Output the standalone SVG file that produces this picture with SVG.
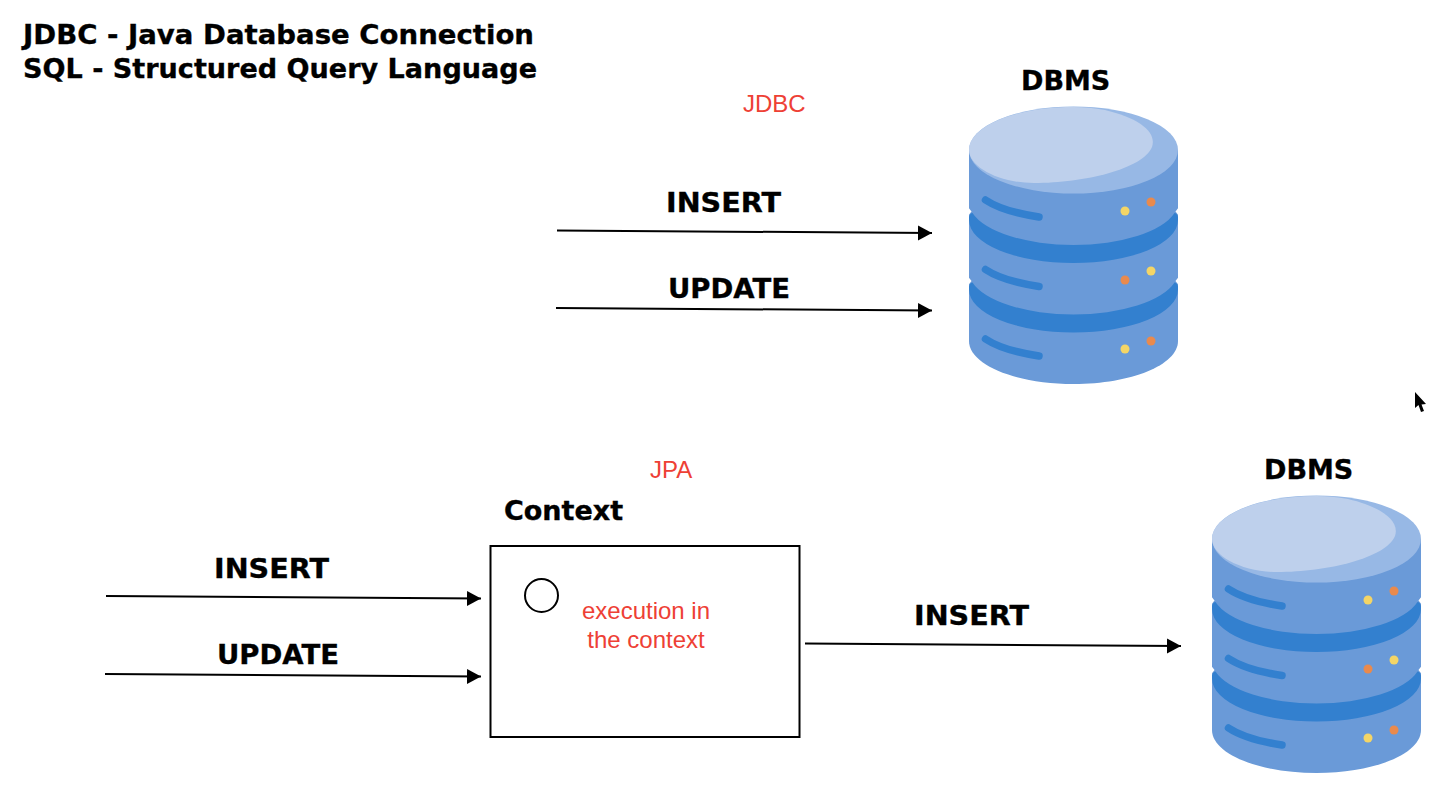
<svg xmlns="http://www.w3.org/2000/svg" width="1454" height="802" viewBox="0 0 1454 802">
<style>
.h{font-family:"DejaVu Sans","Liberation Sans",sans-serif;font-weight:700;font-size:27px;fill:#000;stroke:#000;stroke-width:.35}
.r{font-family:"Liberation Sans",Arial,sans-serif;font-size:24px;fill:#ee4035}
.c{fill:none;stroke:#000;stroke-width:2}
.sl{fill:none;stroke:#3380cf;stroke-width:7.500;stroke-linecap:round}
.band{fill:#3380cf}
</style>
<defs>
<marker id="a" markerUnits="userSpaceOnUse" markerWidth="15" markerHeight="16" refX="14" refY="8" orient="auto"><path d="M0 0.500L14 8L0 15.500Z" fill="#000"/></marker>
<symbol id="db" width="209" height="278" viewBox="0 0 209 278" overflow="visible">
<path d="M0 43V234C0 258 47 277 104.500 277S209 258 209 234V43Z" fill="#6a9ad8"/>
<path class="band" d="M0 110Q1 106 3.500 106A104.500 43 0 0 0 205.500 106Q208 106 209 110V113A104.500 43 0 0 1 0 113Z"/>
<path class="band" d="M0 179.500Q1 175.500 3.500 175.500A104.500 43 0 0 0 205.500 175.500Q208 175.500 209 179.500V182.500A104.500 43 0 0 1 0 182.500Z"/>
<path fill="#fff" d="M-1 100L2.500 104.500L-1 109Z"/><path fill="#fff" d="M210 100L206.500 104.500L210 109Z"/>
<path fill="#fff" d="M-1 169.500L2.500 174L-1 178.500Z"/><path fill="#fff" d="M210 169.500L206.500 174L210 178.500Z"/>
<ellipse cx="104.500" cy="43" rx="104.500" ry="43.500" fill="#97b8e5"/>
<path d="M0 43C0 19 47 0 104.500 0C115 0 125 1 136 3C170 11 188 25 183 40C174 62 115 76 65 76C30 76 0 60 0 43Z" fill="#bed0ec"/>
<path class="sl" d="M16.500 93C30 102 50 107 70 110"/>
<path class="sl" d="M16.500 162.500C30 171.500 50 176.500 70 179.500"/>
<path class="sl" d="M16.500 232C30 241 50 246 70 249"/>
<circle cx="156" cy="104" r="4.500" fill="#f4d566"/><circle cx="182" cy="95" r="4.500" fill="#e98a4d"/>
<circle cx="156" cy="173" r="4.500" fill="#e98a4d"/><circle cx="182" cy="164" r="4.500" fill="#f4d566"/>
<circle cx="156" cy="242" r="4.500" fill="#f4d566"/><circle cx="182" cy="234" r="4.500" fill="#e98a4d"/>
</symbol>
</defs>
<rect width="1454" height="802" fill="#fff"/>
<g id="title">
<text class="h" x="23" y="44" textLength="511" lengthAdjust="spacingAndGlyphs">JDBC - Java Database Connection</text>
<text class="h" x="23" y="78" textLength="514" lengthAdjust="spacingAndGlyphs">SQL - Structured Query Language</text>
</g>
<text class="r" x="743" y="112">JDBC</text>
<text class="r" x="650" y="478">JPA</text>
<g id="db-top"><text class="h" x="1021" y="90">DBMS</text><use href="#db" x="969" y="107"/></g>
<g id="db-bottom"><text class="h" x="1264" y="479">DBMS</text><use href="#db" x="1212" y="496"/></g>
<g id="context">
<text class="h" x="504" y="520">Context</text>
<rect x="490.500" y="546" width="309" height="191" fill="#fff" stroke="#000" stroke-width="2"/>
<circle cx="541.500" cy="595.500" r="16.500" fill="none" stroke="#000" stroke-width="2"/>
<text class="r" x="646" y="619" text-anchor="middle">execution in</text>
<text class="r" x="646" y="648" text-anchor="middle">the context</text>
</g>
<g id="connectors">
<path class="c" marker-end="url(#a)" d="M557 230.500L932 233"/>
<path class="c" marker-end="url(#a)" d="M556 308L932 310.500"/>
<path class="c" marker-end="url(#a)" d="M106 596L481 598.500"/>
<path class="c" marker-end="url(#a)" d="M105 674L481 676.500"/>
<path class="c" marker-end="url(#a)" d="M805 643.500L1181 646"/>
</g>
<g id="labels">
<text class="h" x="666" y="212" textLength="115" lengthAdjust="spacingAndGlyphs">INSERT</text>
<text class="h" x="668" y="298" textLength="122" lengthAdjust="spacingAndGlyphs">UPDATE</text>
<text class="h" x="214" y="578" textLength="115" lengthAdjust="spacingAndGlyphs">INSERT</text>
<text class="h" x="217" y="664" textLength="122" lengthAdjust="spacingAndGlyphs">UPDATE</text>
<text class="h" x="914" y="625" textLength="115" lengthAdjust="spacingAndGlyphs">INSERT</text>
</g>
<path id="cursor" d="M1415 392V408L1418.500 405L1421 412L1424 411L1421.500 404.500L1426 404Z" fill="#000"/>
</svg>
